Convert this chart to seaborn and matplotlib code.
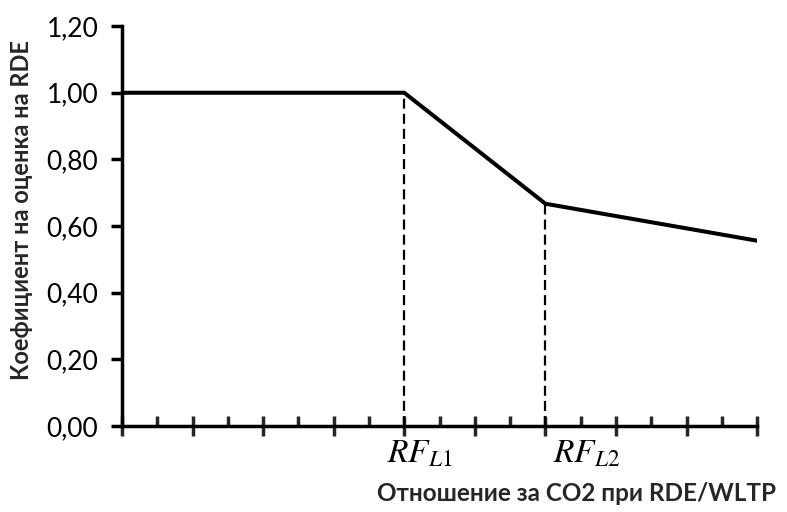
import matplotlib
matplotlib.use("Agg")
import matplotlib.pyplot as plt
import seaborn as sns
import pandas as pd
import numpy as np
from matplotlib.ticker import MultipleLocator, FuncFormatter, NullFormatter

# Data
x_vals = [0, 4, 6, 9]
y_vals = [1.00, 1.00, 0.667, 0.556]
rf_positions = [4, 6]
rf_values = [1.00, 0.667]
rf_labels = [r"$RF_{L1}$", r"$RF_{L2}$"]
y_ticks = [0.0, 0.2, 0.4, 0.6, 0.8, 1.0, 1.2]

sns.set_theme(style="white")
plt.rcParams['font.family'] = ['Lato', 'DejaVu Sans']
plt.rcParams['mathtext.fontset'] = 'stix'

df = pd.DataFrame({"x": x_vals, "y": y_vals})

fig = plt.figure(figsize=(7.87, 5.12), dpi=100)
ax = fig.add_axes([0.155, 0.168, 0.807, 0.781])

sns.lineplot(data=df, x="x", y="y", ax=ax, color="black", linewidth=2.9)
ax.vlines(rf_positions, 0, rf_values, colors="black", linestyles=(0, (4.5, 2.3)), linewidth=1.6)

ax.set_xlim(0, 9)
ax.set_ylim(0, 1.2)

for s in ["top", "right"]:
    ax.spines[s].set_visible(False)
for s in ["left", "bottom"]:
    ax.spines[s].set_linewidth(2.5)
    ax.spines[s].set_color("black")

ax.set_yticks(y_ticks)
ax.yaxis.set_major_formatter(FuncFormatter(lambda v, p: f"{v:.2f}".replace(".", ",")))
ax.tick_params(axis="y", direction="out", length=8, width=2.5, labelsize=19, pad=9, colors="black", left=True)

ax.xaxis.set_major_locator(MultipleLocator(1))
ax.xaxis.set_minor_locator(MultipleLocator(0.5))
ax.xaxis.set_major_formatter(NullFormatter())
ax.tick_params(axis="x", which="major", direction="inout", length=14, width=2.5, bottom=True)
ax.tick_params(axis="x", which="minor", direction="in", length=7, width=2.5, bottom=True)

label_offsets_pt = [-12.2, 5.8]
for xp, lab, dx in zip(rf_positions, rf_labels, label_offsets_pt):
    ax.annotate(lab, xy=(xp, 0), xycoords="data", xytext=(dx, -26.6), textcoords="offset points",
                ha="left", va="baseline", fontsize=24, color="black", annotation_clip=False)

ax.set_xlabel("")
ax.set_ylabel("Коефициент на оценка на RDE", fontsize=17, fontweight="bold")
ax.yaxis.set_label_coords(-0.14, 0.54)
fig.text(0.986, 0.022, "Отношение за CO2 при RDE/WLTP", ha="right", va="baseline", fontsize=17.5, fontweight="bold")

fig.savefig("out.png", dpi=100)
